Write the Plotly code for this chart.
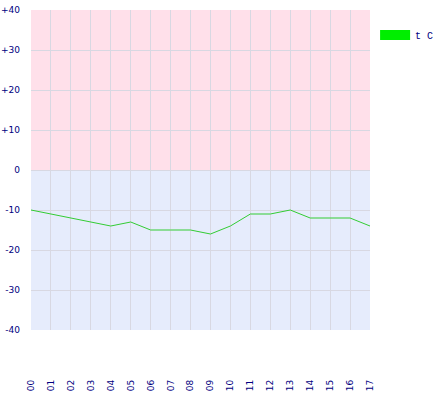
import plotly.graph_objects as go

hours = ["00","01","02","03","04","05","06","07","08","09","10","11","12","13","14","15","16","17"]
temps = [-10, -11, -12, -13, -14, -13, -15, -15, -15, -16, -14, -11, -11, -10, -12, -12, -12, -14]
ytick_vals = [-40, -30, -20, -10, 0, 10, 20, 30, 40]
ytick_text = ["-40", "-30", "-20", "-10", "0", "+10", "+20", "+30", "+40"]
series_name = "t C"

fig = go.Figure()
fig.add_trace(go.Scatter(x=hours, y=temps, mode="lines",
                         line=dict(color="#33cc33", width=1),
                         showlegend=False, hoverinfo="skip"))
fig.add_trace(go.Scatter(x=[None], y=[None], mode="lines", name=series_name,
                         line=dict(color="#00ee00", width=10), showlegend=True))

fig.add_shape(type="rect", xref="paper", yref="y", x0=0, x1=1, y0=0, y1=40,
              fillcolor="#ffe0ea", line_width=0, layer="below")
fig.add_shape(type="rect", xref="paper", yref="y", x0=0, x1=1, y0=-40, y1=0,
              fillcolor="#e6ecfc", line_width=0, layer="below")

fig.update_layout(
    width=440, height=400,
    margin=dict(l=31, r=70, t=10, b=70, autoexpand=False),
    paper_bgcolor="white", plot_bgcolor="rgba(0,0,0,0)",
    font=dict(family="DejaVu Sans", size=9, color="#000080"),
    legend=dict(x=1.015, y=0.967, xanchor="left", yanchor="top",
                xref="paper", yref="paper", bgcolor="rgba(0,0,0,0)",
                font=dict(family="Liberation Mono", size=10, color="#000080"),
                itemwidth=30, tracegroupgap=0),
    showlegend=True,
)
fig.update_xaxes(type="category", range=[0, 17], showgrid=True,
                 gridcolor="#d8d8e2", gridwidth=1, zeroline=False,
                 tickangle=-90, ticks="", ticklabelstandoff=47, automargin=False,
                 tickfont=dict(family="DejaVu Sans", size=9, color="#000080"),
                 showline=False, fixedrange=True)
fig.update_yaxes(range=[-40, 40], tickvals=ytick_vals, ticktext=ytick_text,
                 showgrid=True, gridcolor="#d8d8e2", gridwidth=1, automargin=False,
                 zeroline=False, ticks="", ticklabelstandoff=10,
                 tickfont=dict(family="DejaVu Sans", size=9, color="#000080"),
                 showline=False, fixedrange=True)

fig.write_html("out.html", config={"displayModeBar": False},
               post_script="document.body.style.margin='0px';")
